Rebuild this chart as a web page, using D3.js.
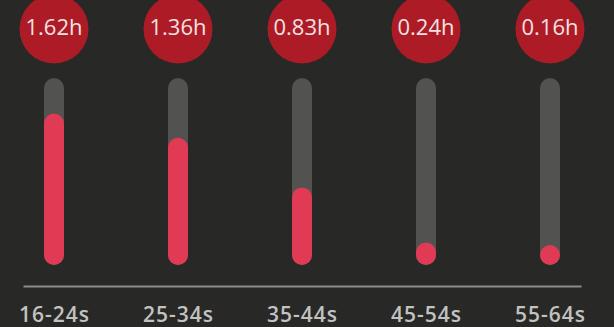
<!DOCTYPE html>
<html><head><meta charset="utf-8">
<script src="https://cdn.jsdelivr.net/npm/d3@7"></script>
<style>html,body{margin:0;padding:0;background:#282826;overflow:hidden}</style>
</head><body>
<svg id="c" width="614" height="327"></svg>
<script>
const categories = ["16-24s","25-34s","35-44s","45-54s","55-64s"];
const hours = [1.62,1.36,0.83,0.24,0.16];
const valueLabels = ["1.62h","1.36h","0.83h","0.24h","0.16h"];
const yMax = 2;

const svg = d3.select("#c");
svg.append("rect").attr("width",614).attr("height",327).attr("fill","#282826");

const x = d3.scalePoint().domain(categories).range([23,581]).padding(0.25);
const y = d3.scaleLinear().domain([0,yMax]).range([265,78]);
const bw = 20;

const g = svg.append("g");
// tracks
g.selectAll("rect.track").data(categories).join("rect")
  .attr("class","track")
  .attr("x",d=>x(d)-bw/2).attr("width",bw)
  .attr("y",y(yMax)).attr("height",y(0)-y(yMax))
  .attr("rx",bw/2).attr("fill","#525251");
// values
g.selectAll("rect.val").data(hours).join("rect")
  .attr("class","val")
  .attr("x",(d,i)=>x(categories[i])-bw/2).attr("width",bw)
  .attr("y",d=>y(0)-Math.max(bw, y(0)-y(d)))
  .attr("height",d=>Math.max(bw, y(0)-y(d)))
  .attr("rx",bw/2).attr("fill","#e03a55");
// circles
g.selectAll("circle.lab").data(categories).join("circle")
  .attr("cx",d=>x(d)).attr("cy",29).attr("r",34.5).attr("fill","#ad1c26");
g.selectAll("text.lab").data(valueLabels).join("text")
  .attr("x",(d,i)=>x(categories[i])).attr("y",35)
  .attr("text-anchor","middle")
  .attr("font-family","Open Sans").attr("font-size",22).attr("font-weight",500)
  .attr("fill","#f3e0e2").text(d=>d);

// axis
const axis = d3.axisBottom(x).tickSize(0).tickPadding(21);
const ag = svg.append("g").attr("transform","translate(0,286)").call(axis);
ag.select(".domain").attr("stroke","#8c8c8b").attr("stroke-width",2);
ag.selectAll("text").attr("font-family","Open Sans").attr("font-size",21)
  .attr("font-weight",600)
  .attr("fill","#c2c2c1").attr("letter-spacing","1px");
</script>
</body></html>
